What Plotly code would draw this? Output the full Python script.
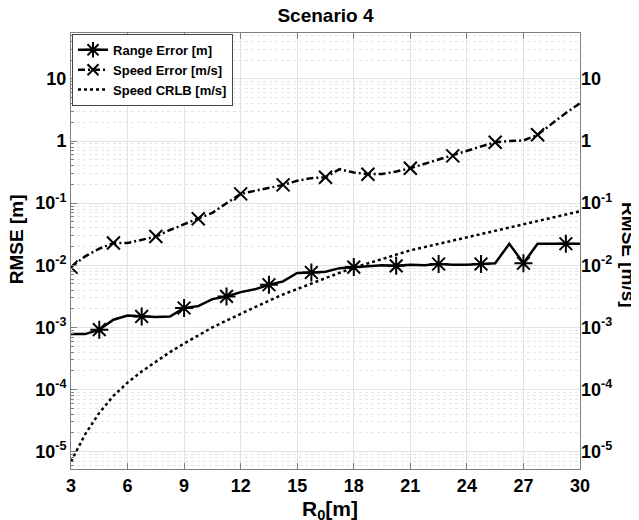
import plotly.graph_objects as go

# R0 grid [m]
r0 = [3.0, 3.75, 4.5, 5.25, 6.0, 6.75, 7.5, 8.25, 9.0, 9.75, 10.5, 11.25, 12.0,
      12.75, 13.5, 14.25, 15.0, 15.75, 16.5, 17.25, 18.0, 18.75, 19.5, 20.25,
      21.0, 21.75, 22.5, 23.25, 24.0, 24.75, 25.5, 26.25, 27.0, 27.75, 28.5,
      29.25, 30.0]

range_err = [7.8e-4, 7.8e-4, 9.2e-4, 1.33e-3, 1.55e-3, 1.5e-3, 1.47e-3, 1.5e-3,
             2.05e-3, 2.2e-3, 2.85e-3, 3.15e-3, 3.7e-3, 4.1e-3, 4.86e-3, 5.5e-3,
             7.5e-3, 7.66e-3, 7.9e-3, 9.0e-3, 9.35e-3, 9.9e-3, 1.0e-2, 9.8e-3,
             1.02e-2, 1.0e-2, 1.05e-2, 1.02e-2, 1.02e-2, 1.05e-2, 1.08e-2,
             2.22e-2, 1.08e-2, 2.22e-2, 2.22e-2, 2.22e-2, 2.22e-2]

speed_err = [9.35e-3, 1.39e-2, 1.85e-2, 2.28e-2, 2.28e-2, 2.57e-2, 2.9e-2, 3.7e-2,
             4.6e-2, 5.6e-2, 7.0e-2, 0.100, 0.141, 0.158, 0.177, 0.197, 0.229,
             0.253, 0.262, 0.353, 0.311, 0.293, 0.295, 0.323, 0.366, 0.43, 0.50,
             0.577, 0.695, 0.82, 0.96, 1.0, 1.02, 1.26, 1.89, 2.84, 4.06]

speed_crlb = [6.9e-6, 1.9e-5, 4.2e-5, 7.9e-5, 1.29e-4, 1.95e-4, 2.8e-4, 4.0e-4,
              5.5e-4, 7.4e-4, 1.0e-3, 1.29e-3, 1.66e-3, 2.14e-3, 2.69e-3, 3.39e-3,
              4.17e-3, 5.13e-3, 6.31e-3, 7.59e-3, 9.12e-3, 1.07e-2, 1.26e-2,
              1.48e-2, 1.74e-2, 1.96e-2, 2.21e-2, 2.49e-2, 2.82e-2, 3.18e-2,
              3.59e-2, 4.05e-2, 4.57e-2, 5.15e-2, 5.82e-2, 6.56e-2, 7.41e-2]

x_ticks = [3, 6, 9, 12, 15, 18, 21, 24, 27, 30]
y_ticks = [1e-5, 1e-4, 1e-3, 1e-2, 1e-1, 1, 10]
y_ticktext = ["10<sup>-5</sup>", "10<sup>-4</sup>", "10<sup>-3</sup>",
              "10<sup>-2</sup>", "10<sup>-1</sup>", "1", "10"]

FONT = "Liberation Sans, Arial, Helvetica, sans-serif"
GRID = "#e3e3e3"
FRAME = "#7f7f7f"
DASHDOT = "7px,3px,2px,3px"

fig = go.Figure()

# lines
fig.add_trace(go.Scatter(x=r0, y=range_err, mode="lines", showlegend=False,
                         line=dict(color="black", width=2.5)))
fig.add_trace(go.Scatter(x=r0, y=speed_err, mode="lines", showlegend=False,
                         line=dict(color="black", width=2.5, dash=DASHDOT)))

# markers every third sample
fig.add_trace(go.Scatter(x=r0[2::3], y=range_err[2::3], mode="markers", showlegend=False,
                         marker=dict(symbol="asterisk-open", size=15, color="black",
                                     line=dict(color="black", width=2))))
fig.add_trace(go.Scatter(x=r0[0:36:3], y=speed_err[0:36:3], mode="markers", showlegend=False,
                         marker=dict(symbol="x-thin-open", size=13, color="black",
                                     line=dict(color="black", width=2))))

# legend entries
fig.add_trace(go.Scatter(x=[None], y=[None], mode="lines+markers", name="Range Error [m]",
                         line=dict(color="black", width=2.5),
                         marker=dict(symbol="asterisk-open", size=13,
                                     line=dict(color="black", width=2))))
fig.add_trace(go.Scatter(x=[None], y=[None], mode="lines+markers", name="Speed Error [m/s]",
                         line=dict(color="black", width=2.5, dash=DASHDOT),
                         marker=dict(symbol="x-thin-open", size=11,
                                     line=dict(color="black", width=2))))
fig.add_trace(go.Scatter(x=r0, y=speed_crlb, mode="lines", name="Speed CRLB [m/s]",
                         line=dict(color="black", width=2.5, dash="dot")))

# anchor the right axis so its labels show
fig.add_trace(go.Scatter(x=[None], y=[None], yaxis="y2", showlegend=False))

# page body adds an 8px margin, so the figure is sized 8px smaller
fig.update_layout(
    width=631, height=512,
    margin=dict(l=63, r=59, t=25, b=51),
    paper_bgcolor="white", plot_bgcolor="white",
    font=dict(family=FONT, size=18, color="black", weight="bold"),
    title=dict(text="Scenario 4", xref="paper", x=0.5, xanchor="center",
               yref="container", y=0.985, yanchor="middle",
               font=dict(family=FONT, size=19, weight="bold")),
    legend=dict(x=0.002, y=0.998, xanchor="left", yanchor="top",
                bgcolor="white", bordercolor="#444", borderwidth=1,
                font=dict(family=FONT, size=13, weight="bold"),
                tracegroupgap=0, itemwidth=30),
    xaxis=dict(range=[3, 30], tickvals=x_ticks, showgrid=True, gridcolor=GRID,
               ticks="inside", ticklen=6, tickcolor=FRAME, mirror="ticks",
               showline=True, linecolor=FRAME, linewidth=1, zeroline=False,
               automargin=False, tickfont=dict(size=18, weight="bold")),
    yaxis=dict(type="log", range=[-5.28, 1.74], tickvals=y_ticks, ticktext=y_ticktext,
               showgrid=True, gridcolor=GRID, ticks="inside", ticklen=6,
               tickcolor=FRAME, mirror=True, showline=True, linecolor=FRAME,
               automargin=False, tickfont=dict(size=18, weight="bold"),
               minor=dict(showgrid=True, gridcolor="#e6e6e6", griddash="dot",
                          ticks="inside", ticklen=3, tickcolor=FRAME, dtick="D1")),
    yaxis2=dict(type="log", range=[-5.28, 1.74], overlaying="y", side="right",
                tickvals=y_ticks, ticktext=y_ticktext, showgrid=False,
                ticks="", showline=False, zeroline=False, automargin=False,
                tickfont=dict(size=18, weight="bold")),
    annotations=[
        dict(text="RMSE [m]", textangle=-90, xref="paper", yref="paper",
             x=-0.108, y=0.527, xanchor="center", yanchor="middle", showarrow=False,
             font=dict(family=FONT, size=19, weight="bold")),
        dict(text="RMSE [m/s]", textangle=90, xref="paper", yref="paper",
             x=1.094, y=0.491, xanchor="center", yanchor="middle", showarrow=False,
             font=dict(family=FONT, size=19, weight="bold")),
        dict(text="R<sub>0</sub>[m]", xref="paper", yref="paper",
             x=0.509, y=-0.094, xanchor="center", yanchor="middle", showarrow=False,
             font=dict(family=FONT, size=21, weight="bold")),
    ],
)

fig.write_html("out.html")
